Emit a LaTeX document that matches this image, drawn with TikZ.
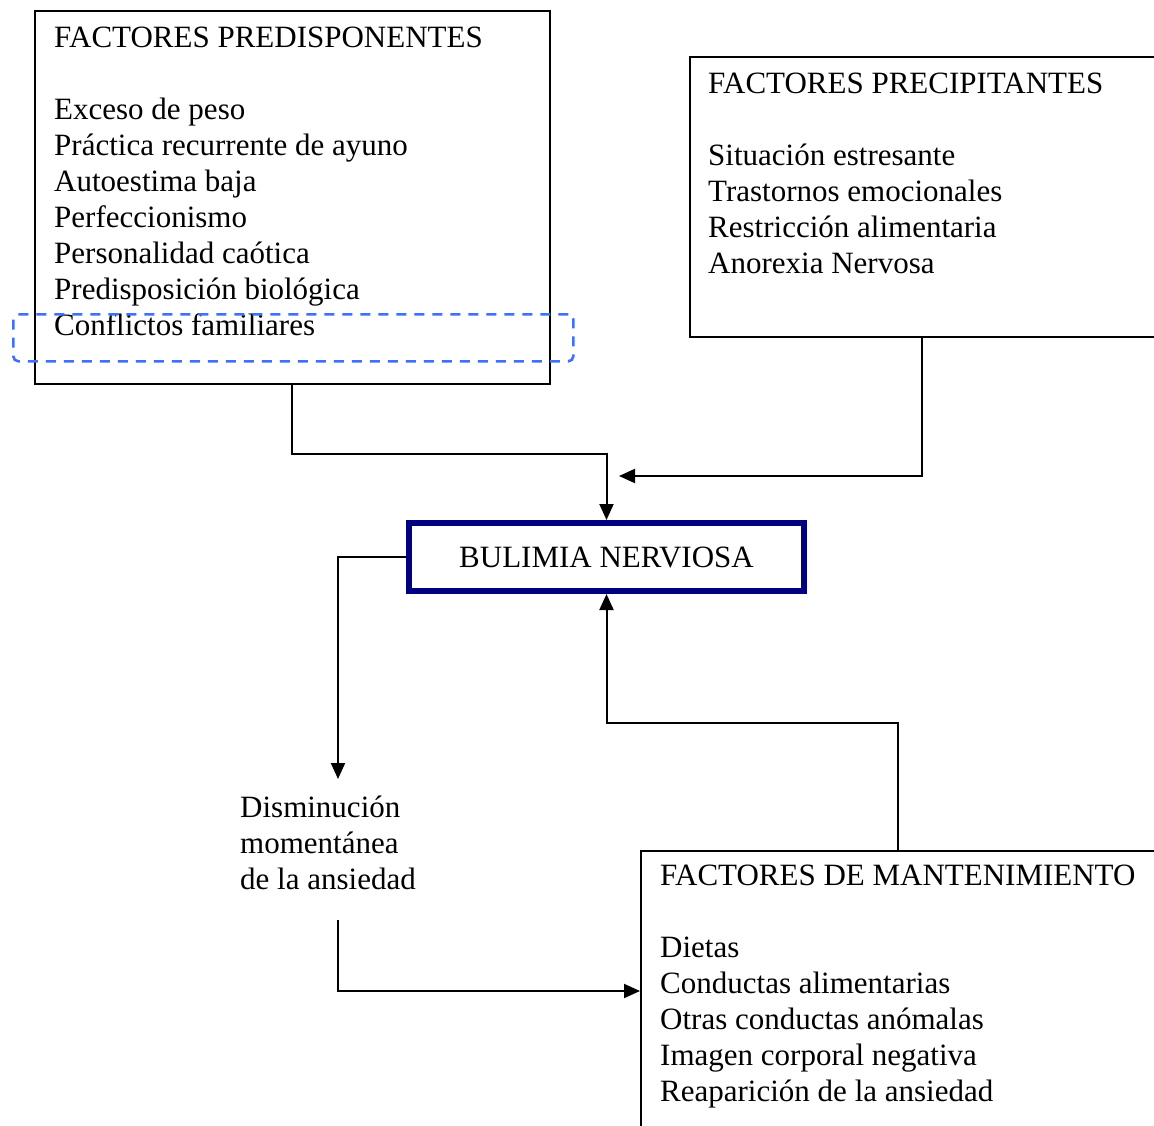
\documentclass[tikz,border=0pt]{standalone}
\usepackage{fontspec}
\setmainfont{Liberation Serif}
\usetikzlibrary{arrows.meta,calc}
\definecolor{boxnavy}{RGB}{0,0,128}
\definecolor{hlblue}{RGB}{64,112,250}
\begin{document}
\begin{tikzpicture}[x=1pt,y=-1pt,
  % multi-line texts are placed by the baseline of their last line
  txt/.style={anchor=base west,inner sep=0pt,align=left,font=\fontsize{31}{36}\selectfont},
  factbox/.style={draw,line width=2pt,anchor=north west,inner sep=0pt},
  conn/.style={line width=2pt},
  arr/.style={conn,-{Triangle[length=16pt,width=14pt]}},
  hl/.style={draw=hlblue,line width=2.6pt,dash pattern=on 10pt off 8pt,rounded corners=5pt,anchor=north west,inner sep=0pt}]
\useasboundingbox (0,0) rectangle (1154,1126);
\clip (0,0) rectangle (1154,1126);
\fill[white] (0,0) rectangle (1154,1126);

% factor boxes
\node[factbox,minimum width=515pt,minimum height=373pt] (pre) at (34,10) {};
\node[factbox,minimum width=520pt,minimum height=280pt] (prec) at (689,56) {};
\node[factbox,minimum width=560pt,minimum height=350pt] (man) at (640,850) {};

% central box
\node[draw=boxnavy,line width=6pt,minimum width=395pt,minimum height=68pt,inner sep=0pt,
      font=\fontsize{31}{36}\selectfont] (bul) at (606.5,557) {BULIMIA NERVIOSA};

% box contents
\node[txt] (pretxt) at (54,335) {FACTORES PREDISPONENTES\\[36pt]Exceso de peso\\Práctica recurrente de ayuno\\Autoestima baja\\Perfeccionismo\\Personalidad caótica\\Predisposición biológica\\Conflictos familiares};
\node[txt] (prectxt) at (708,273) {FACTORES PRECIPITANTES\\[36pt]Situación estresante\\Trastornos emocionales\\Restricción alimentaria\\Anorexia Nervosa};
\node[txt] (mantxt) at (660,1101) {FACTORES DE MANTENIMIENTO\\[36pt]Dietas\\Conductas alimentarias\\Otras conductas anómalas\\Imagen corporal negativa\\Reaparición de la ansiedad};
\node[txt] (dis) at (240,889) {Disminución\\momentánea\\de la ansiedad};

% highlight of the last predisposing factor
\node[hl,minimum width=560pt,minimum height=47pt] (hlbox) at (12,313) {};

% connectors
\coordinate (precend) at (619,476);
\coordinate (distop) at (338,779);
\coordinate (disbot) at (338,920);

\draw[arr] (pre.south -| 292,0) |- ($(bul.north)+(0,-66)$) -- (bul.north);
\draw[arr] (prec.south -| 922,0) |- (precend);
\draw[arr] (bul.west) -| (distop);
\draw[arr] (disbot) |- (man.west |- 0,991);
\draw[arr] (man.north -| 898,0) |- ($(bul.south)+(0,129)$) -- (bul.south);
\end{tikzpicture}
\end{document}
